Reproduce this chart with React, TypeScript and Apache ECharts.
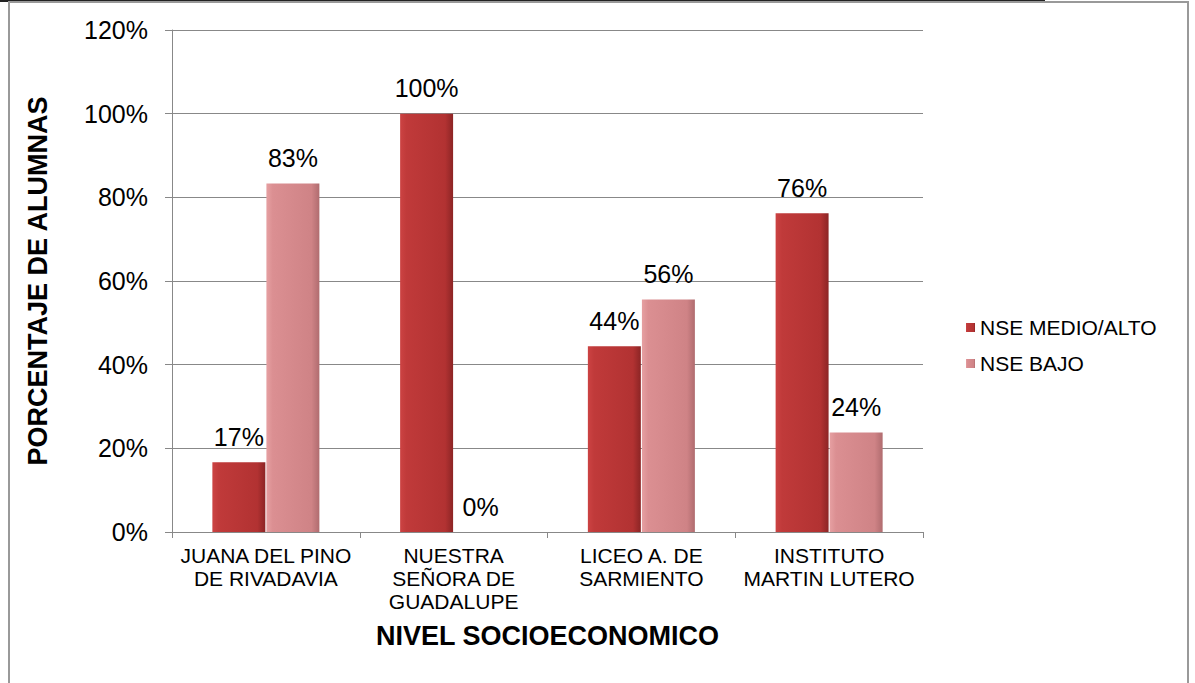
import React, { useEffect, useRef } from "react";
import * as echarts from "echarts";

const categories = [
  "JUANA DEL PINO\nDE RIVADAVIA",
  "NUESTRA\nSEÑORA DE\nGUADALUPE",
  "LICEO A. DE\nSARMIENTO",
  "INSTITUTO\nMARTIN LUTERO",
];
const medioAlto = [16.7, 100, 44.4, 76.2];
const bajo = [83.3, 0, 55.6, 23.8];
const seriesNames = ["NSE MEDIO/ALTO", "NSE BAJO"];
const yTicks = { min: 0, max: 120, interval: 20 };

const FONT = "'Liberation Sans', Arial, sans-serif";

const darkGrad = new echarts.graphic.LinearGradient(0, 0, 1, 0, [
  { offset: 0, color: "#cc4343" },
  { offset: 0.12, color: "#c03a3a" },
  { offset: 0.85, color: "#b23232" },
  { offset: 1, color: "#8c2525" },
]);
const lightGrad = new echarts.graphic.LinearGradient(0, 0, 1, 0, [
  { offset: 0, color: "#e6a0a2" },
  { offset: 0.12, color: "#db8f92" },
  { offset: 0.85, color: "#cf8386" },
  { offset: 1, color: "#b06c6f" },
]);

export default function App() {
  const ref = useRef<HTMLDivElement>(null);
  useEffect(() => {
    const chart = echarts.init(ref.current!, null, { renderer: "svg" });
    const label = {
      show: true,
      position: "top",
      distance: 13,
      fontSize: 25,
      fontFamily: FONT,
      color: "#000",
      formatter: (p: any) => Math.round(p.value) + "%",
    };
    chart.setOption({
      animation: false,
      backgroundColor: "#fff",
      textStyle: { fontFamily: FONT },
      grid: { left: 172, right: 1195 - 923, top: 30, bottom: 683 - 532, containLabel: false },
      legend: {
        orient: "vertical",
        left: 961,
        top: 312,
        itemWidth: 9,
        itemHeight: 9,
        itemGap: 15,
        icon: "rect",
        textStyle: { fontSize: 21, fontFamily: FONT, color: "#000" },
        data: seriesNames,
      },
      xAxis: {
        type: "category",
        data: categories,
        name: "NIVEL SOCIOECONOMICO",
        nameLocation: "middle",
        nameGap: 90,
        nameTextStyle: { fontSize: 27, fontWeight: "bold", fontFamily: FONT, color: "#000" },
        axisLine: { lineStyle: { color: "#888", width: 1 } },
        axisTick: { show: true, length: 6, lineStyle: { color: "#888" } },
        axisLabel: { fontSize: 21, fontFamily: FONT, color: "#000", margin: 12, lineHeight: 23, interval: 0 },
      },
      yAxis: {
        type: "value",
        min: yTicks.min,
        max: yTicks.max,
        interval: yTicks.interval,
        name: "PORCENTAJE DE ALUMNAS",
        nameLocation: "middle",
        nameRotate: 90,
        nameGap: 121,
        nameTextStyle: { fontSize: 27, fontWeight: "bold", fontFamily: FONT, color: "#000" },
        axisLine: { show: true, lineStyle: { color: "#888", width: 1 } },
        axisTick: { show: true, length: 7, lineStyle: { color: "#888" } },
        axisLabel: { fontSize: 25, fontFamily: FONT, color: "#000", margin: 24, formatter: "{value}%" },
        splitLine: { lineStyle: { color: "#888", width: 1 } },
      },
      series: [
        {
          name: seriesNames[0],
          type: "bar",
          data: medioAlto,
          barGap: "2%",
          barCategoryGap: "43%",
          itemStyle: { color: darkGrad },
          label,
        },
        {
          name: seriesNames[1],
          type: "bar",
          data: bajo,
          itemStyle: { color: lightGrad },
          label,
        },
      ],
      graphic: [
        { type: "rect", shape: { x: 0, y: 0, width: 1045, height: 2 }, style: { fill: "#222" }, silent: true },
        { type: "rect", shape: { x: 8, y: 1, width: 1181, height: 2 }, style: { fill: "#999" }, silent: true },
        { type: "rect", shape: { x: 8, y: 1, width: 2, height: 682 }, style: { fill: "#999" }, silent: true },
        { type: "rect", shape: { x: 1187, y: 1, width: 2, height: 682 }, style: { fill: "#999" }, silent: true },
      ],
    });
    return () => chart.dispose();
  }, []);
  return (
    <div
      ref={ref}
      style={{ position: "fixed", left: 0, top: 0, width: 1195, height: 683 }}
    />
  );
}
